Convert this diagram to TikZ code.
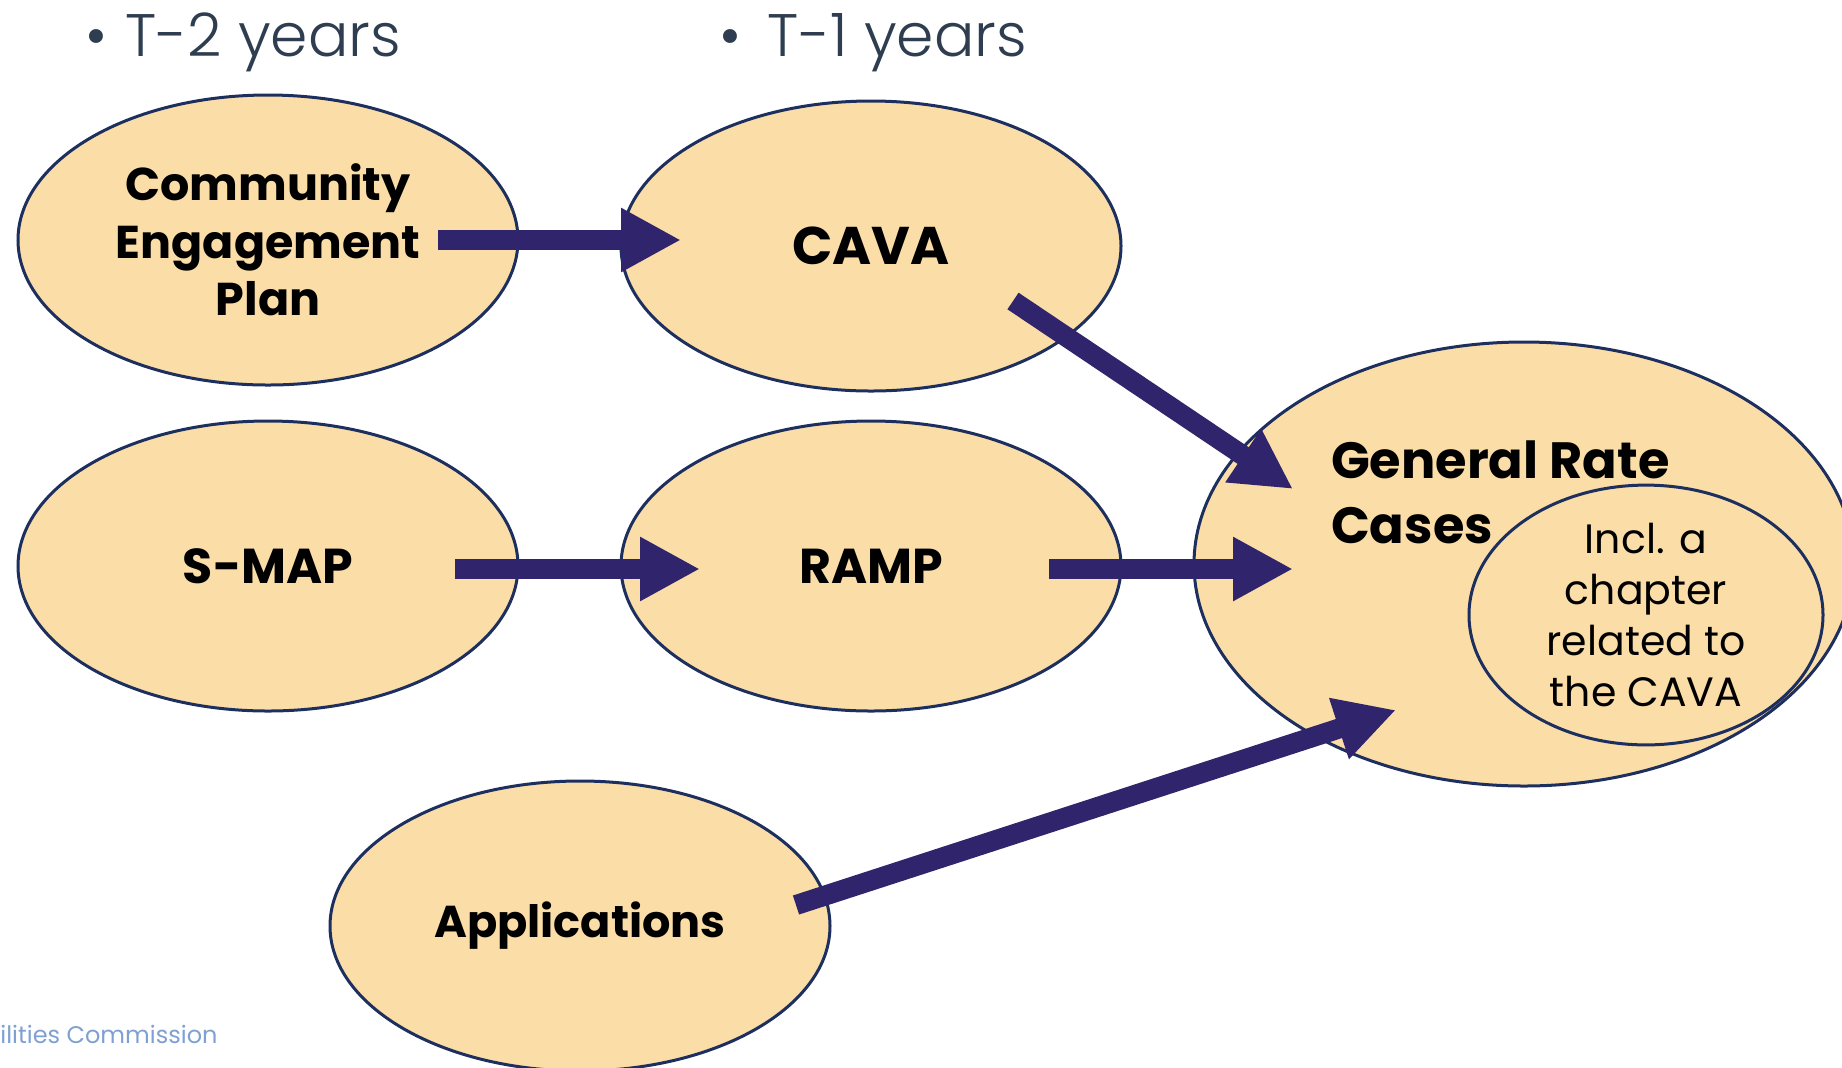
\documentclass[tikz,border=0pt]{standalone}
\usepackage{fontspec}
\setmainfont{Poppins}
\newfontfamily\lightfont{Poppins Light}
\usetikzlibrary{arrows.meta,shapes.geometric}
\definecolor{peach}{HTML}{FBDDA7}
\definecolor{navy}{HTML}{1C2F5E}
\definecolor{arrowpurple}{HTML}{30256C}
\definecolor{slate}{HTML}{2E3D4F}
\definecolor{footblue}{HTML}{7FA0D2}
\tikzset{
  bubble/.style={ellipse, draw=navy, fill=peach, line width=1.5pt,
    minimum width=250pt, minimum height=145pt, inner sep=0pt,
    align=center, font=\bfseries\fontsize{23}{28.8}\selectfont},
  bigarrow/.style={draw=arrowpurple, line width=10pt,
    -{Triangle[length=30pt, width=30pt, fill=arrowpurple]}},
  heading/.style={anchor=base west, text=slate, font=\lightfont\fontsize{30}{36}\selectfont},
}
\begin{document}
\begin{tikzpicture}[x=0.5pt, y=-0.5pt]
\useasboundingbox (0,0) rectangle (1842,1067);

% time headings
\node[heading] (t2) at (78,56) {\textbullet\hspace{0.3em}T-2 years};
\node[heading] (t1) at (712,56) {\textbullet\hspace{0.45em}T-1 years};

% process bubbles
\node[bubble] (cep)  at (268,240) {Community\\Engagement\\Plan};
\node[bubble, font=\bfseries\fontsize{26.5}{32}\selectfont] (cava) at (871,246) {CAVA};
\node[bubble, font=\bfseries\fontsize{24.5}{30}\selectfont] (smap) at (268,566) {S-MAP};
\node[bubble, font=\bfseries\fontsize{24.5}{30}\selectfont] (ramp) at (871,566) {RAMP};
\node[bubble, font=\bfseries\fontsize{22.3}{27}\selectfont] (apps) at (580,926) {Applications};

% general rate cases with inner chapter bubble
\node[bubble, minimum width=330pt, minimum height=222pt] (grc) at (1524,564) {};
\node[anchor=base west, align=left, font=\bfseries\fontsize{25.5}{32.5}\selectfont]
  (grctext) at (1324,543) {General Rate\\Cases};
\node[bubble, minimum width=177pt, minimum height=125pt,
  font=\fontsize{20.5}{25.5}\selectfont] (chap) at (1646,615)
  {Incl. a\\chapter\\related to\\the CAVA};

% connector end points
\coordinate (cepout)  at (438,240);
\coordinate (cavain)  at (681,240);
\coordinate (smapout) at (455,569);
\coordinate (rampin)  at (700,569);
\coordinate (rampout) at (1049,569);
\coordinate (grcin)   at (1293,569);
\coordinate (cavaout) at (1013,301);
\coordinate (grcin2)  at (1293,489);
\coordinate (appsout) at (796,905);
\coordinate (grcin3)  at (1396,710);

\draw[bigarrow] (cepout) -- (cavain);
\draw[bigarrow] (smapout) -- (rampin);
\draw[bigarrow] (rampout) -- (grcin);
\draw[bigarrow] (cavaout) -- (grcin2);
\draw[bigarrow] (appsout) -- (grcin3);

% footer
\node[anchor=base west, inner sep=0pt, text=footblue,
  font=\fontsize{12}{14}\selectfont] (foot) at (0,1043) {ilities Commission};
\end{tikzpicture}
\end{document}
